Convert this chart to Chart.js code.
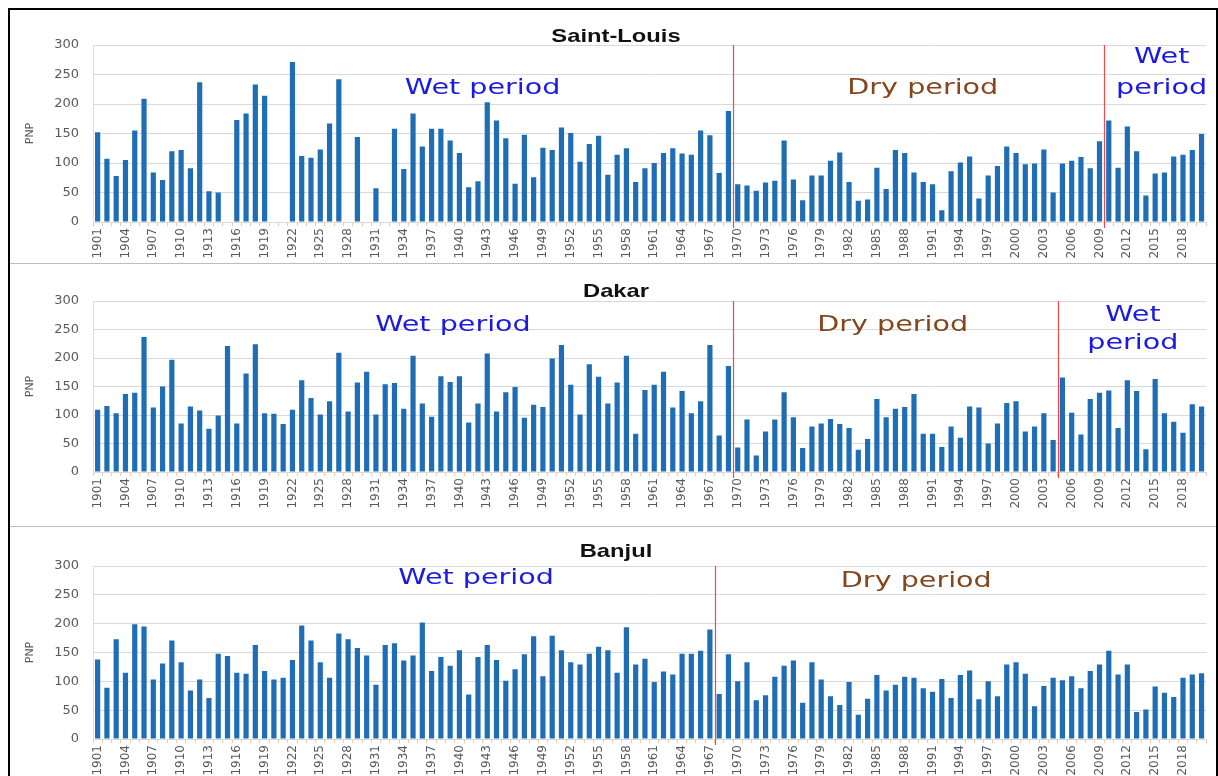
<!DOCTYPE html>
<html><head><meta charset="utf-8">
<script src="https://cdn.jsdelivr.net/npm/chart.js@4.4.1/dist/chart.umd.min.js"></script>
<style>
html,body{margin:0;padding:0;background:#fff;width:1218px;height:776px;overflow:hidden;}
#frame{position:absolute;left:8px;top:8px;width:1206px;height:800px;border:2px solid #000;}
.sep{position:absolute;left:10px;width:1206px;height:1px;background:#bdbdbd;}
.pane{position:absolute;left:0;width:1218px;}
canvas{display:block;}
</style></head><body>
<div id="frame"></div>
<div class="sep" style="top:263px"></div>
<div class="sep" style="top:526px"></div>
<div class="pane" style="top:9px;height:254px"><canvas id="c1" width="1218" height="254"></canvas></div>
<div class="pane" style="top:264px;height:262px"><canvas id="c2" width="1218" height="262"></canvas></div>
<div class="pane" style="top:527px;height:260px"><canvas id="c3" width="1218" height="260"></canvas></div>
<script>
const years = [
 '1901','1902','1903','1904','1905','1906','1907','1908','1909','1910',
 '1911','1912','1913','1914','1915','1916','1917','1918','1919','1920',
 '1921','1922','1923','1924','1925','1926','1927','1928','1929','1930',
 '1931','1932','1933','1934','1935','1936','1937','1938','1939','1940',
 '1941','1942','1943','1944','1945','1946','1947','1948','1949','1950',
 '1951','1952','1953','1954','1955','1956','1957','1958','1959','1960',
 '1961','1962','1963','1964','1965','1966','1967','1968','1969','1970',
 '1971','1972','1973','1974','1975','1976','1977','1978','1979','1980',
 '1981','1982','1983','1984','1985','1986','1987','1988','1989','1990',
 '1991','1992','1993','1994','1995','1996','1997','1998','1999','2000',
 '2001','2002','2003','2004','2005','2006','2007','2008','2009','2010',
 '2011','2012','2013','2014','2015','2016','2017','2018','2019','2020'];

const tickYears = ['1901','1904','1907','1910','1913','1916','1919','1922','1925','1928',
 '1931','1934','1937','1940','1943','1946','1949','1952','1955','1958',
 '1961','1964','1967','1970','1973','1976','1979','1982','1985','1988',
 '1991','1994','1997','2000','2003','2006','2009','2012','2015','2018'];

const yTicks = [0, 50, 100, 150, 200, 250, 300];

const saintLouis = [
 152,107,78,105,155,209,84,71,120,122,
 91,237,52,50,null,173,184,233,214,null,
 null,271,112,109,123,167,242,null,144,null,
 57,null,158,90,184,128,158,158,138,117,
 59,69,203,172,142,65,148,76,126,122,
 160,151,102,132,146,80,114,125,68,91,
 100,117,125,116,114,155,147,83,188,64,
 62,53,67,70,138,72,37,79,79,104,
 118,68,36,38,92,56,122,117,84,68,
 64,20,86,101,111,40,79,95,128,117,
 98,99,123,50,99,104,110,91,137,172,
 92,162,120,45,82,84,111,114,122,149];

const dakar = [
 109,116,103,137,139,237,113,150,197,85,
 115,108,76,99,221,85,173,224,103,102,
 84,109,161,130,101,124,209,106,157,176,
 101,154,156,111,204,120,97,168,158,168,
 87,120,208,106,140,149,95,118,114,199,
 223,153,101,189,167,120,157,204,67,144,
 153,176,113,142,103,124,223,64,186,43,
 92,29,71,92,140,96,42,80,85,93,
 84,77,39,58,128,96,111,114,137,67,
 67,44,80,60,115,113,50,85,121,124,
 71,80,103,56,166,104,66,128,139,143,
 77,161,142,40,163,103,88,69,119,115];

const banjul = [
 138,89,173,115,199,195,103,131,171,133,
 84,103,71,148,144,115,113,163,118,103,
 106,137,197,171,133,106,183,173,158,145,
 94,163,166,136,145,202,118,142,127,154,
 77,142,163,137,101,121,147,178,109,179,
 154,133,129,148,160,154,115,194,129,139,
 99,117,112,148,148,153,190,78,147,100,
 133,67,76,108,127,136,63,133,103,74,
 59,99,42,70,111,84,94,108,106,88,
 82,104,71,111,119,69,100,74,129,133,
 113,57,92,106,102,109,88,118,129,153,
 112,129,47,51,91,80,73,106,112,114];

// first year of each new period (red separators)
const slBreaks = ['1970','2010'];
const dkBreaks = ['1970','2005'];
const bjBreaks = ['1968'];

const WET = '#1a1ae0', DRY = '#84461d';

const decor = {
  id: 'decor',
  afterDatasetsDraw(chart, args, o) {
    const ctx = chart.ctx, xs = chart.scales.x, ys = chart.scales.y, ca = chart.chartArea;
    ctx.save();
    ctx.strokeStyle = '#ef4b4b';
    ctx.lineWidth = 1.2;
    (o.breaks || []).forEach(yr => {
      const i = years.indexOf(yr);
      const px = Math.round((xs.getPixelForValue(i - 1) + xs.getPixelForValue(i)) / 2) + 0.5;
      ctx.beginPath(); ctx.moveTo(px, ca.top); ctx.lineTo(px, ca.bottom + 6); ctx.stroke();
    });
    (o.notes || []).forEach(n => {
      const px = xs.getPixelForValue(n.x), py = ys.getPixelForValue(n.y);
      ctx.save();
      ctx.translate(px, py); ctx.scale(1.3, 1);
      ctx.font = '22px "DejaVu Sans"';
      ctx.fillStyle = n.color; ctx.textAlign = 'center'; ctx.textBaseline = 'alphabetic';
      ctx.fillText(n.text, 0, 0);
      ctx.restore();
    });
    if (o.title) {
      ctx.save();
      ctx.translate(o.title.x, o.title.y); ctx.scale(1.25, 1);
      ctx.font = 'bold 19px "Liberation Sans"';
      ctx.fillStyle = '#111'; ctx.textAlign = 'center'; ctx.textBaseline = 'alphabetic';
      ctx.fillText(o.title.text, 0, 0);
      ctx.restore();
    }
    ctx.restore();
  }
};

Chart.defaults.animation = false;

function makePanel(id, values, padTop, xHeight, decorOpts) {
  return new Chart(document.getElementById(id), {
    type: 'bar',
    data: { labels: years, datasets: [{ data: values, backgroundColor: '#1f6db5', borderWidth: 0,
      barPercentage: 0.56, categoryPercentage: 1.0 }] },
    options: {
      responsive: false, devicePixelRatio: 1,
      layout: { padding: { top: padTop, left: 0, right: 11, bottom: 0 } },
      plugins: { legend: { display: false }, tooltip: { enabled: false }, title: { display: false }, decor: decorOpts },
      scales: {
        x: {
          grid: { display: true, drawOnChartArea: false, drawTicks: true, tickLength: 4, color: '#f5c9a3', offset: true },
          border: { display: true, color: '#d9d9d9' },
          ticks: { autoSkip: false, minRotation: 90, maxRotation: 90, padding: 2, color: '#595959',
            font: { family: 'DejaVu Sans', size: 12 },
            callback(v) { const l = this.getLabelForValue(v); return tickYears.includes(l) ? l : ''; } },
          afterFit(s) { s.height = xHeight; }
        },
        y: {
          min: 0, max: 300,
          afterBuildTicks(s) { s.ticks = yTicks.map(v => ({ value: v })); },
          grid: { color: '#d9d9d9', drawTicks: false },
          border: { display: true, color: '#e9dccd' },
          ticks: { padding: 14, color: '#595959', font: { family: 'DejaVu Sans', size: 13 } },
          title: { display: true, text: 'PNP', color: '#595959', font: { family: 'DejaVu Sans', size: 11 }, padding: { top: 24, bottom: 0 } },
          afterFit(s) { s.width = 93; }
        }
      }
    },
    plugins: [decor]
  });
}

makePanel('c1', saintLouis, 36, 41, {
  breaks: slBreaks,
  title: { text: 'Saint-Louis', x: 616, y: 32.5 },
  notes: [
    { text: 'Wet period', color: WET, x: 41.5, y: 217 },
    { text: 'Dry period', color: DRY, x: 88.95, y: 217 },
    { text: 'Wet', color: WET, x: 114.7, y: 269.5 },
    { text: 'period', color: WET, x: 114.7, y: 217 }
  ]
});
makePanel('c2', dakar, 37, 54, {
  breaks: dkBreaks,
  title: { text: 'Dakar', x: 616, y: 32.5 },
  notes: [
    { text: 'Wet period', color: WET, x: 38.3, y: 247 },
    { text: 'Dry period', color: DRY, x: 85.7, y: 247 },
    { text: 'Wet', color: WET, x: 111.6, y: 265 },
    { text: 'period', color: WET, x: 111.6, y: 216 }
  ]
});
makePanel('c3', banjul, 39, 48, {
  breaks: bjBreaks,
  title: { text: 'Banjul', x: 616, y: 30 },
  notes: [
    { text: 'Wet period', color: WET, x: 40.8, y: 268 },
    { text: 'Dry period', color: DRY, x: 88.25, y: 263 }
  ]
});
</script>
</body></html>
